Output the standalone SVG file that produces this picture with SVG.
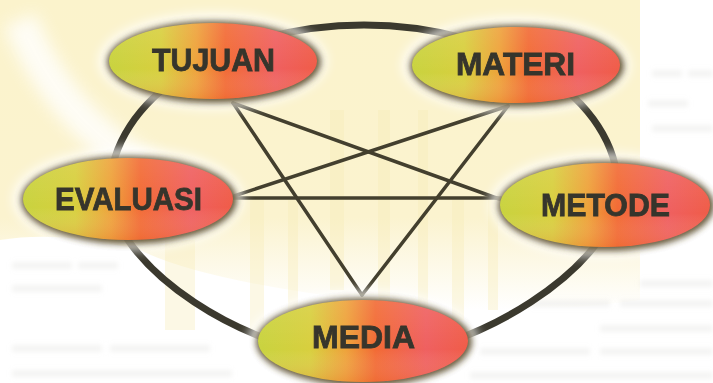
<svg xmlns="http://www.w3.org/2000/svg" width="713" height="383" viewBox="0 0 713 383">
  <defs>
    <linearGradient id="nodeFill" x1="0" y1="0" x2="1" y2="0">
      <stop offset="0" stop-color="#c9d33f"/>
      <stop offset="0.25" stop-color="#d8cf3e"/>
      <stop offset="0.42" stop-color="#eea23a"/>
      <stop offset="0.56" stop-color="#f26a34"/>
      <stop offset="0.8" stop-color="#ef6060"/>
      <stop offset="1" stop-color="#f05c48"/>
    </linearGradient>
    <linearGradient id="nodeShade" x1="0" y1="0" x2="0" y2="1">
      <stop offset="0" stop-color="#ffffff" stop-opacity="0.1"/>
      <stop offset="0.6" stop-color="#ffffff" stop-opacity="0"/>
      <stop offset="1" stop-color="#e86a30" stop-opacity="0.25"/>
    </linearGradient>
    <linearGradient id="bgYellow" x1="0" y1="0" x2="0" y2="1">
      <stop offset="0" stop-color="#fbf3cc"/>
      <stop offset="0.7" stop-color="#fbf3cf"/>
      <stop offset="1" stop-color="#fbf3cf" stop-opacity="0"/>
    </linearGradient>
    <filter id="shadow" x="-20%" y="-40%" width="140%" height="180%">
      <feGaussianBlur stdDeviation="3.2"/>
    </filter>
    <filter id="halo" x="-30%" y="-50%" width="160%" height="200%">
      <feGaussianBlur stdDeviation="6"/>
    </filter>
    <filter id="soft" x="-10%" y="-50%" width="120%" height="200%">
      <feGaussianBlur stdDeviation="2.5"/>
    </filter>
    <filter id="soft6" x="-30%" y="-30%" width="160%" height="160%">
      <feGaussianBlur stdDeviation="8"/>
    </filter>
  </defs>
  <style>
    .ring { fill: none; stroke: #3b392e; stroke-width: 7; }
    .link { fill: none; stroke: #433f2e; stroke-width: 3.5; stroke-linecap: round; }
    .glow { fill: #ffffff; opacity: 0.85; }
    .shade { fill: #4f3f1c; opacity: 0.85; }
    .body { fill: url(#nodeFill); }
    .over { fill: url(#nodeShade); }
    .label { font-family: "Liberation Sans", "DejaVu Sans", Arial, sans-serif; font-weight: bold; font-size: 31px; fill: #36352c; stroke: #36352c; stroke-width: 0.8; text-anchor: middle; }
    .stripe { fill: #f7eab4; opacity: 0.35; }
    .ghost { fill: #dcdcd8; opacity: 0.3; }
  </style>

  <!-- background -->
  <rect x="0" y="0" width="713" height="383" fill="#ffffff"/>
  <g id="background">
    <path d="M0 0 H640 V300 Q500 320 360 300 Q200 280 140 250 Q60 230 0 240 Z" fill="url(#bgYellow)"/>
    <path d="M20 20 Q60 120 150 170" fill="none" stroke="#ffffff" stroke-width="34" opacity="0.8" filter="url(#soft6)"/>
    <path d="M0 250 Q120 260 230 300 L230 383 L0 383 Z" fill="#ffffff" opacity="0.9" filter="url(#soft6)"/>
    <rect class="stripe" x="250" y="200" width="14" height="130"/>
    <rect class="stripe" x="288" y="200" width="10" height="120"/>
    <rect class="stripe" x="330" y="110" width="14" height="180"/>
    <rect class="stripe" x="378" y="110" width="12" height="190"/>
    <rect class="stripe" x="418" y="110" width="10" height="200"/>
    <rect class="stripe" x="452" y="200" width="12" height="120"/>
    <rect class="stripe" x="488" y="200" width="10" height="110"/>
    <rect class="stripe" x="165" y="240" width="30" height="90"/>
    <g filter="url(#soft)">
      <rect class="ghost" x="652" y="70" width="30" height="7"/>
      <rect class="ghost" x="688" y="70" width="25" height="7"/>
      <rect class="ghost" x="648" y="100" width="40" height="7"/>
      <rect class="ghost" x="652" y="125" width="61" height="7"/>
      <rect class="ghost" x="640" y="280" width="73" height="7"/>
      <rect class="ghost" x="530" y="300" width="80" height="7"/>
      <rect class="ghost" x="620" y="300" width="93" height="7"/>
      <rect class="ghost" x="600" y="325" width="113" height="7"/>
      <rect class="ghost" x="480" y="348" width="110" height="7"/>
      <rect class="ghost" x="600" y="348" width="113" height="7"/>
      <rect class="ghost" x="470" y="372" width="243" height="7"/>
      <rect class="ghost" x="12" y="262" width="60" height="7"/>
      <rect class="ghost" x="78" y="262" width="40" height="7"/>
      <rect class="ghost" x="12" y="285" width="90" height="7"/>
      <rect class="ghost" x="12" y="345" width="90" height="7"/>
      <rect class="ghost" x="110" y="345" width="100" height="7"/>
      <rect class="ghost" x="12" y="370" width="220" height="7"/>
    </g>
  </g>

  <!-- connectors -->
  <g id="connectors">
    <path class="ring" d="M110 190 C110 99 224 25 364 25 C504 25 618 99 618 190 C618 265 470 358 364 358 C250 358 110 265 110 190 Z"/>
    <line class="link" x1="233" y1="103" x2="362" y2="295"/>
    <line class="link" x1="233" y1="103" x2="502" y2="200"/>
    <line class="link" x1="508" y1="106" x2="362" y2="295"/>
    <line class="link" x1="508" y1="106" x2="234" y2="196"/>
    <line class="link" x1="232" y1="198" x2="502" y2="198"/>
  </g>

  <!-- nodes -->
  <g id="node-tujuan">
    <ellipse class="glow" cx="213" cy="61" rx="114" ry="48" filter="url(#halo)"/>
    <ellipse class="shade" cx="214" cy="62" rx="107" ry="41" filter="url(#shadow)"/>
    <ellipse class="body" cx="213" cy="61" rx="104" ry="38"/>
    <ellipse class="over" cx="213" cy="61" rx="104" ry="38"/>
    <text class="label" x="213.5" y="71" textLength="123" lengthAdjust="spacingAndGlyphs">TUJUAN</text>
  </g>
  <g id="node-materi">
    <ellipse class="glow" cx="516" cy="65" rx="114" ry="48" filter="url(#halo)"/>
    <ellipse class="shade" cx="517" cy="66" rx="107" ry="41" filter="url(#shadow)"/>
    <ellipse class="body" cx="516" cy="65" rx="104" ry="38"/>
    <ellipse class="over" cx="516" cy="65" rx="104" ry="38"/>
    <text class="label" x="515.5" y="75" textLength="119" lengthAdjust="spacingAndGlyphs">MATERI</text>
  </g>
  <g id="node-evaluasi">
    <ellipse class="glow" cx="128" cy="199" rx="115" ry="51" filter="url(#halo)"/>
    <ellipse class="shade" cx="129" cy="200" rx="108" ry="44" filter="url(#shadow)"/>
    <ellipse class="body" cx="128" cy="199" rx="105" ry="41"/>
    <ellipse class="over" cx="128" cy="199" rx="105" ry="41"/>
    <text class="label" x="128.5" y="210" textLength="147" lengthAdjust="spacingAndGlyphs">EVALUASI</text>
  </g>
  <g id="node-metode">
    <ellipse class="glow" cx="605" cy="205" rx="115" ry="52" filter="url(#halo)"/>
    <ellipse class="shade" cx="606" cy="206" rx="108" ry="45" filter="url(#shadow)"/>
    <ellipse class="body" cx="605" cy="205" rx="105" ry="42"/>
    <ellipse class="over" cx="605" cy="205" rx="105" ry="42"/>
    <text class="label" x="605.5" y="216" textLength="129" lengthAdjust="spacingAndGlyphs">METODE</text>
  </g>
  <g id="node-media">
    <ellipse class="glow" cx="363" cy="341" rx="115" ry="50" filter="url(#halo)"/>
    <ellipse class="shade" cx="364" cy="342" rx="108" ry="44" filter="url(#shadow)"/>
    <ellipse class="body" cx="363" cy="341" rx="105" ry="41"/>
    <ellipse class="over" cx="363" cy="341" rx="105" ry="41"/>
    <text class="label" x="363.5" y="348" textLength="103" lengthAdjust="spacingAndGlyphs">MEDIA</text>
  </g>
</svg>
